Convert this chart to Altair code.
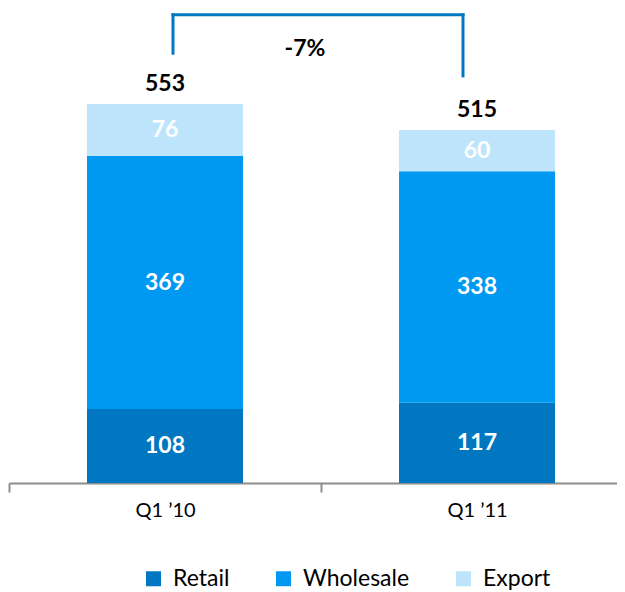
import altair as alt
import pandas as pd

categories = ["Q1 ’10", "Q1 ’11"]
segments = ["Retail", "Wholesale", "Export"]
retail = [108, 117]
wholesale = [369, 338]
export = [76, 60]
totals = [553, 515]
change_label = ["-7%"]
colors = ["#0077C0", "#0099F2", "#BDE4FB"]

# annotation bracket levels (data units)
bracket_top = [683]
bracket_leg_bottom = [627, 594]
change_label_y = [633]

FONT = "Lato"
W, H = 609, 475

rows = []
for i, c in enumerate(categories):
    for j, (s, vals) in enumerate(zip(segments, [retail, wholesale, export])):
        rows.append({"cat": c, "seg": s, "val": vals[i], "ord": j})
df = pd.DataFrame(rows)
tot_df = pd.DataFrame({"cat": categories, "total": totals})
legs_df = pd.DataFrame({"cat": categories, "y0": bracket_leg_bottom, "y1": bracket_top * 2})
hbar_df = pd.DataFrame({"c1": [categories[0]], "c2": [categories[1]], "y": bracket_top})
chg_df = pd.DataFrame({"cat": [categories[0]], "y": change_label_y, "t": change_label})

xscale = alt.Scale(domain=categories, paddingInner=0, paddingOuter=0, range=[1, 625])
yscale = alt.Scale(domain=[0, 693], nice=False)

x_enc = alt.X(
    "cat:N",
    scale=xscale,
    sort=categories,
    axis=alt.Axis(
        title=None,
        labelAngle=0,
        labelFont=FONT,
        labelFontSize=20,
        labelColor="black",
        domainColor="#8c8c8c",
        domainWidth=2,
        tickColor="#8c8c8c",
        tickWidth=2,
        tickSize=9,
        tickBand="extent",
        labelPadding=8,
    ),
)

bars = alt.Chart(df).mark_bar(width={"band": 0.5}).encode(
    x=x_enc,
    y=alt.Y("val:Q", stack="zero", scale=yscale, axis=None),
    color=alt.Color(
        "seg:N",
        scale=alt.Scale(domain=segments, range=colors),
        legend=alt.Legend(
            orient="none",
            legendX=134,
            legendY=559,
            direction="horizontal",
            title=None,
            labelFont=FONT,
            labelFontSize=23,
            labelColor="black",
            labelOffset=8,
            symbolType="square",
            symbolSize=225,
            symbolStrokeWidth=0,
            columnPadding=42,
        ),
    ),
    order=alt.Order("ord:Q"),
)

seg_text = (
    alt.Chart(df)
    .transform_stack(stack="val", groupby=["cat"], as_=["y0", "y1"], sort=[alt.SortField("ord")])
    .transform_calculate(mid="(datum.y0 + datum.y1) / 2")
    .mark_text(font=FONT, fontSize=23, fontWeight="bold", color="white", baseline="middle")
    .encode(x=alt.X("cat:N", scale=xscale, sort=categories), y=alt.Y("mid:Q", scale=yscale), text="val:Q")
)

tot_text = (
    alt.Chart(tot_df)
    .mark_text(font=FONT, fontSize=23, fontWeight="bold", color="black", baseline="middle", dy=-20)
    .encode(x=alt.X("cat:N", scale=xscale, sort=categories), y=alt.Y("total:Q", scale=yscale), text="total:Q")
)

leg_left = (
    alt.Chart(legs_df.iloc[[0]])
    .mark_rule(color="#0077C0", strokeWidth=3, xOffset=8, strokeCap="square")
    .encode(x=alt.X("cat:N", scale=xscale, sort=categories), y=alt.Y("y0:Q", scale=yscale), y2="y1:Q")
)
leg_right = (
    alt.Chart(legs_df.iloc[[1]])
    .mark_rule(color="#0077C0", strokeWidth=3, xOffset=-14, strokeCap="square")
    .encode(x=alt.X("cat:N", scale=xscale, sort=categories), y=alt.Y("y0:Q", scale=yscale), y2="y1:Q")
)
hbar = (
    alt.Chart(hbar_df)
    .mark_rule(color="#0077C0", strokeWidth=3, xOffset=8, x2Offset=-14, strokeCap="square")
    .encode(x=alt.X("c1:N", scale=xscale, sort=categories), x2="c2:N", y=alt.Y("y:Q", scale=yscale))
)

chg_text = (
    alt.Chart(chg_df)
    .mark_text(font=FONT, fontSize=23, fontWeight="bold", color="black", baseline="middle", dx=140)
    .encode(x=alt.X("cat:N", scale=xscale, sort=categories), y=alt.Y("y:Q", scale=yscale), text="t:N")
)

chart = (
    alt.layer(bars, seg_text, tot_text, leg_left, leg_right, hbar, chg_text)
    .properties(
        width=W,
        height=H,
        padding={"left": 0, "top": 0, "right": 0, "bottom": 111},
        autosize=alt.AutoSizeParams(type="none"),
    )
    .configure_view(strokeWidth=0)
)

chart.save("out.html", embed_options={"renderer": "svg", "actions": False})
